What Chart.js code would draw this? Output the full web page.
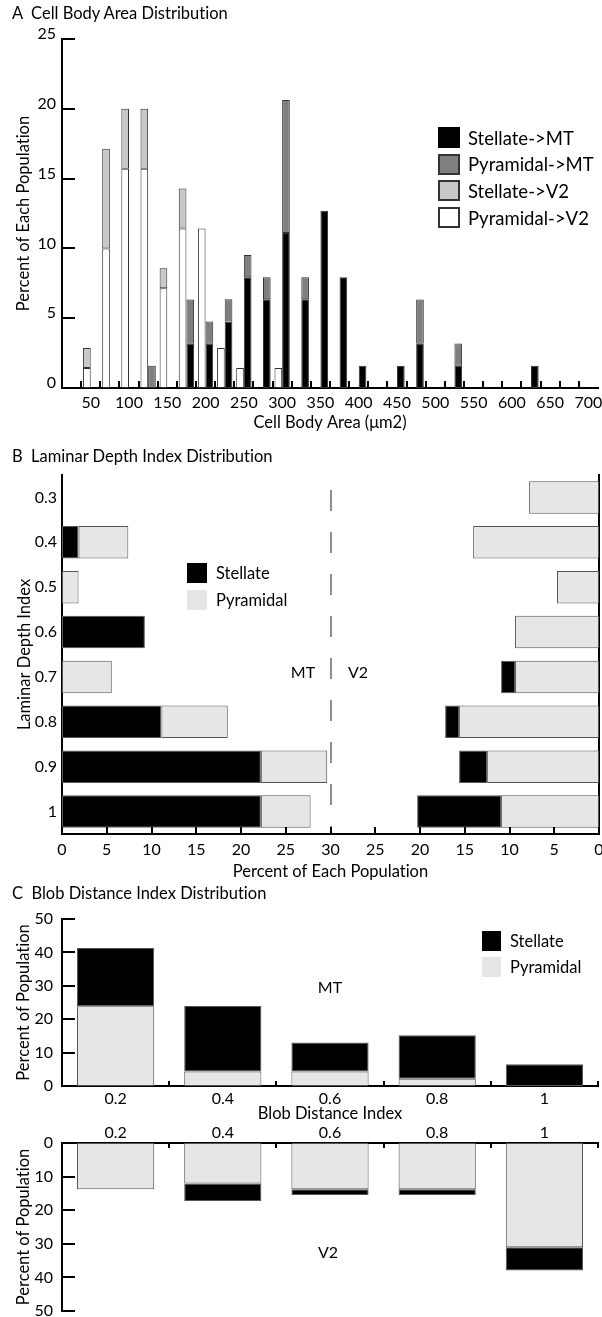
<!DOCTYPE html>
<html><head><meta charset="utf-8">
<script src="https://cdn.jsdelivr.net/npm/chart.js@4.4.1/dist/chart.umd.min.js"></script>
<style>
html,body{margin:0;padding:0;background:#fff;}
body{width:602px;height:1317px;position:relative;overflow:hidden;font-family:Lato, "Noto Sans", sans-serif;color:#000;font-variant-ligatures:none;}
canvas{position:absolute;left:0;}
.t{position:absolute;white-space:pre;line-height:1;transform:translateY(-50%);}
.c{transform:translate(-50%,-50%);}
.title{font-size:16.5px;}
.lab{font-size:16px;}
.box{position:absolute;box-sizing:border-box;}
</style></head><body>
<canvas id="cA" width="602" height="440" style="top:0px"></canvas>
<canvas id="cB" width="602" height="450" style="top:440px"></canvas>
<canvas id="cC1" width="602" height="245" style="top:880px"></canvas>
<canvas id="cC2" width="602" height="207" style="top:1110px"></canvas>
<div class="t title" style="left:12px;top:13px">A  Cell Body Area Distribution</div>
<div class="t title" style="left:12px;top:456px">B  Laminar Depth Index Distribution</div>
<div class="t title" style="left:12px;top:893px">C  Blob Distance Index Distribution</div>
<div class="t c lab" style="left:303px;top:672px">MT</div>
<div class="t c lab" style="left:358px;top:672px">V2</div>
<div class="t c lab" style="left:330px;top:987px">MT</div>
<div class="t c lab" style="left:328px;top:1252px">V2</div>
<div id="legends"></div>
<script>
// ---------- Panel A data ----------
const areaBins = ['25','50','75','100','125','150','175','200','225','250','275','300','325','350',
  '375','400','425','450','475','500','525','550','575','600','625','650','675','700'];
const stelMT = [0,0,0,0,0,0,3.17,3.17,4.76,7.94,6.35,11.11,6.35,12.70,7.94,1.59,0,1.59,3.17,0,1.59,0,0,0,1.59,0,0,0];
const pyrMT  = [0,0,0,0,1.59,0,3.17,1.59,1.59,1.59,1.59,9.52,1.59,0,0,0,0,0,3.17,0,1.59,0,0,0,0,0,0,0];
const stelV2 = [0,1.43,7.14,4.29,4.29,1.43,2.86,0,0,0,0,0,0,0,0,0,0,0,0,0,0,0,0,0,0,0,0,0];
const pyrV2  = [0,1.43,10.00,15.71,15.71,7.14,11.43,11.43,2.86,1.43,0,1.43,0,0,0,0,0,0,0,0,0,0,0,0,0,0,0,0];
const areaMax = 25, areaStep = 5, areaLabelEvery = 50;

// ---------- Panel B data ----------
const depthIdx = ['0.3','0.4','0.5','0.6','0.7','0.8','0.9','1'];
const mtStelB = [0,1.85,0,9.26,0,11.11,22.22,22.22];
const mtPyrB  = [0,5.56,1.85,0,5.56,7.41,7.41,5.56];
const v2StelB = [0,0,0,0,1.56,1.56,3.13,9.38];
const v2PyrB  = [7.81,14.06,4.69,9.38,9.38,15.63,12.50,10.94];
const bMax = 30, bStep = 5;

// ---------- Panel C data ----------
const blobIdx = ['0.2','0.4','0.6','0.8','1'];
const mtPyrC  = [23.91,4.35,4.35,2.17,0];
const mtStelC = [17.39,19.57,8.70,13.04,6.52];
const v2PyrC  = [13.79,12.07,13.79,13.79,31.03];
const v2StelC = [0,5.17,1.72,1.72,6.90];
const cMax = 50, cStep = 10;

// ---------- styles ----------
const COL = {stelMT:'#000000', pyrMT:'#7f7f7f', stelV2:'#c8c8c8', pyrV2:'#ffffff', stel:'#000000', pyr:'#e6e6e6'};
const FAM = 'Lato, "Noto Sans", sans-serif';

Chart.defaults.font.family = FAM;
Chart.defaults.font.size = 16;
Chart.defaults.color = '#000';
Chart.defaults.animation = false;

const nz = a => a.map(v => v ? v : null);
const fix = size => s => {
  if (s.isHorizontal()) s.height = size; else s.width = size;
  s.paddingLeft = s.paddingRight = s.paddingTop = s.paddingBottom = 0;
};
const border = {display:true, color:'#000', width:2};
const noGrid = {display:false, drawTicks:false};
const titleFont = {family:FAM, size:16.5};

const innerTicks = {
  id:'innerTicks',
  afterDraw(chart, args, opts) {
    const ctx = chart.ctx;
    ctx.save();
    ctx.strokeStyle = '#000';
    ctx.lineWidth = 2;
    (opts.items || []).forEach(it => {
      const s = chart.scales[it.scale];
      const px = [];
      if (it.between) {
        const n = s.getLabels().length;
        const to = it.to == null ? n : it.to;
        for (let i = it.from; i <= to; i++) px.push(s.getPixelForValue(i - 0.5));
      } else {
        s.ticks.forEach((t, i) => { if (!(it.skip || []).includes(t.value)) px.push(s.getPixelForTick(i)); });
      }
      ctx.beginPath();
      px.forEach(p => {
        p = Math.round(p);
        if (s.position === 'bottom') { ctx.moveTo(p, s.top); ctx.lineTo(p, s.top - it.len); }
        else if (s.position === 'top') { ctx.moveTo(p, s.bottom); ctx.lineTo(p, s.bottom + it.len); }
        else { ctx.moveTo(s.right, p); ctx.lineTo(s.right + it.len, p); }
      });
      ctx.stroke();
    });
    ctx.restore();
  }
};

const midLine = {
  id:'midLine',
  afterDatasetsDraw(chart, args, opts) {
    const ctx = chart.ctx;
    const x = Math.round(chart.scales.x.getPixelForValue(opts.value));
    const {top, bottom} = chart.chartArea;
    ctx.save();
    ctx.setLineDash(opts.dash);
    ctx.strokeStyle = opts.color;
    ctx.lineWidth = opts.width;
    ctx.beginPath();
    ctx.moveTo(x, top + opts.gap);
    ctx.lineTo(x, bottom);
    ctx.stroke();
    ctx.restore();
  }
};

const basePlugins = {legend:{display:false}, tooltip:{enabled:false}};

// ---------- Chart A ----------
const aBar = {borderColor:'#333', borderWidth:1, borderSkipped:false};
new Chart(document.getElementById('cA'), {
  type:'bar',
  data:{labels:areaBins, datasets:[
    {label:'Pyramidal->V2', data:nz(pyrV2), stack:'V2', backgroundColor:COL.pyrV2, ...aBar},
    {label:'Stellate->V2', data:nz(stelV2), stack:'V2', backgroundColor:COL.stelV2, ...aBar},
    {label:'Stellate->MT', data:nz(stelMT), stack:'MT', backgroundColor:COL.stelMT, ...aBar},
    {label:'Pyramidal->MT', data:nz(pyrMT), stack:'MT', backgroundColor:COL.pyrMT, ...aBar}
  ]},
  options:{
    responsive:false,
    layout:{padding:{top:39, right:4, left:0, bottom:0}},
    datasets:{bar:{categoryPercentage:0.8, barPercentage:1}},
    scales:{
      x:{stacked:true, grid:noGrid, border,
        ticks:{padding:5, autoSkip:false, maxRotation:0,
          callback(v){ const l = this.getLabelForValue(v); return (+l) % areaLabelEvery === 0 ? l : ''; }},
        title:{display:true, text:'Cell Body Area (\u03bcm2)', font:titleFont, padding:{top:0, bottom:7}},
        afterFit:fix(52)},
      y:{stacked:true, min:0, max:areaMax, grid:noGrid, border,
        ticks:{stepSize:areaStep, padding:6, labelOffset:-5},
        title:{display:true, text:'Percent of Each Population', font:titleFont, padding:{top:14, bottom:0}},
        afterFit:fix(62)}
    },
    plugins:{...basePlugins, innerTicks:{items:[{scale:'x', between:true, from:1, to:27, len:7}, {scale:'y', len:13, skip:[0]}]}}
  },
  plugins:[innerTicks]
});

// ---------- Chart B ----------
const bBar = {borderColor:'#555', borderWidth:1, borderSkipped:false, grouped:false};
new Chart(document.getElementById('cB'), {
  type:'bar',
  data:{labels:depthIdx, datasets:[
    {label:'Stellate', data:mtStelB.map(v => v ? [0, v] : null), backgroundColor:COL.stel, ...bBar},
    {label:'Pyramidal', data:mtPyrB.map((v,i) => v ? [mtStelB[i], mtStelB[i] + v] : null), backgroundColor:COL.pyr, ...bBar},
    {label:'Pyramidal', data:v2PyrB.map(v => v ? [2*bMax - v, 2*bMax] : null), backgroundColor:COL.pyr, ...bBar},
    {label:'Stellate', data:v2StelB.map((v,i) => v ? [2*bMax - v2PyrB[i] - v, 2*bMax - v2PyrB[i]] : null), backgroundColor:COL.stel, ...bBar}
  ]},
  options:{
    responsive:false, indexAxis:'y',
    layout:{padding:{top:35, right:3, left:0, bottom:0}},
    datasets:{bar:{categoryPercentage:0.724, barPercentage:1}},
    scales:{
      x:{type:'linear', min:0, max:2*bMax, grid:noGrid, border,
        ticks:{stepSize:bStep, padding:6, maxRotation:0, callback:v => v <= bMax ? v : 2*bMax - v},
        title:{display:true, text:'Percent of Each Population', font:titleFont, padding:{top:0, bottom:8}},
        afterFit:fix(56)},
      y:{type:'category', grid:noGrid, border, ticks:{padding:5},
        title:{display:true, text:'Laminar Depth Index', font:titleFont, padding:{top:15, bottom:0}},
        afterFit:fix(62)},
      y2:{type:'category', position:'right', grid:noGrid, border, ticks:{display:false}, afterFit:fix(0)}
    },
    plugins:{...basePlugins, innerTicks:{items:[{scale:'x', len:7}]},
      midLine:{value:bMax, dash:[21,21], color:'#6a6a6a', width:1.5, gap:15}}
  },
  plugins:[innerTicks, midLine]
});

// ---------- Chart C top (MT) ----------
const cBar = {borderColor:'#555', borderWidth:1, borderSkipped:false};
new Chart(document.getElementById('cC1'), {
  type:'bar',
  data:{labels:blobIdx, datasets:[
    {label:'Pyramidal', data:nz(mtPyrC), stack:'mt', backgroundColor:COL.pyr, ...cBar},
    {label:'Stellate', data:nz(mtStelC), stack:'mt', backgroundColor:COL.stel, ...cBar}
  ]},
  options:{
    responsive:false,
    layout:{padding:{top:39, right:4, left:0, bottom:0}},
    datasets:{bar:{categoryPercentage:0.72, barPercentage:1}},
    scales:{
      x:{stacked:true, grid:noGrid, border, ticks:{padding:3, maxRotation:0},
        title:{display:true, text:'Blob Distance Index', font:titleFont, padding:{top:0, bottom:1}},
        afterFit:fix(39)},
      y:{stacked:true, min:0, max:cMax, grid:noGrid, border, ticks:{stepSize:cStep, padding:9},
        title:{display:true, text:'Percent of Population', font:titleFont, padding:{top:14, bottom:0}},
        afterFit:fix(62)}
    },
    plugins:{...basePlugins, innerTicks:{items:[{scale:'x', between:true, from:1, len:5}, {scale:'y', len:13, skip:[0]}]}}
  },
  plugins:[innerTicks]
});

// ---------- Chart C bottom (V2) ----------
new Chart(document.getElementById('cC2'), {
  type:'bar',
  data:{labels:blobIdx, datasets:[
    {label:'Pyramidal', data:nz(v2PyrC), stack:'v2', backgroundColor:COL.pyr, ...cBar},
    {label:'Stellate', data:nz(v2StelC), stack:'v2', backgroundColor:COL.stel, ...cBar}
  ]},
  options:{
    responsive:false,
    layout:{padding:{top:0, right:4, left:0, bottom:6}},
    datasets:{bar:{categoryPercentage:0.72, barPercentage:1}},
    scales:{
      x:{position:'top', stacked:true, grid:noGrid, border, ticks:{padding:1, maxRotation:0},
        afterFit:fix(33)},
      y:{stacked:true, reverse:true, min:0, max:cMax, grid:noGrid, border, ticks:{stepSize:cStep, padding:9},
        title:{display:true, text:'Percent of Population', font:titleFont, padding:{top:14, bottom:0}},
        afterFit:fix(62)}
    },
    plugins:{...basePlugins, innerTicks:{items:[{scale:'x', between:true, from:1, len:5}, {scale:'y', len:13, skip:[0]}]}}
  },
  plugins:[innerTicks]
});

// ---------- Legends (HTML) ----------
const legends = [
  {x:438, y:127, w:22, h:21, step:26.7, tx:468, bw:2, fs:18.5, items:[
    ['Stellate->MT', COL.stelMT, '#000'], ['Pyramidal->MT', COL.pyrMT, '#333'],
    ['Stellate->V2', COL.stelV2, '#333'], ['Pyramidal->V2', COL.pyrV2, '#333']]},
  {x:187, y:563, w:20, h:20, step:27, tx:216, bw:0, fs:16.5, items:[['Stellate', COL.stel, COL.stel], ['Pyramidal', COL.pyr, COL.pyr]]},
  {x:482, y:931, w:19, h:19.5, step:26, tx:510, bw:0, fs:16.5, items:[['Stellate', COL.stel, COL.stel], ['Pyramidal', COL.pyr, COL.pyr]]}
];
const host = document.getElementById('legends');
legends.forEach(L => {
  L.items.forEach(([txt, fill, bc], i) => {
    const top = L.y + i * L.step;
    const b = document.createElement('div');
    b.className = 'box';
    b.style.cssText = `left:${L.x}px;top:${top}px;width:${L.w}px;height:${L.h}px;background:${fill};border:${L.bw}px solid ${bc};`;
    host.appendChild(b);
    const t = document.createElement('div');
    t.className = 't lab';
    t.style.cssText = `left:${L.tx}px;top:${top + L.h/2}px;font-size:${L.fs}px;`;
    t.textContent = txt;
    host.appendChild(t);
  });
});
</script>
</body></html>
